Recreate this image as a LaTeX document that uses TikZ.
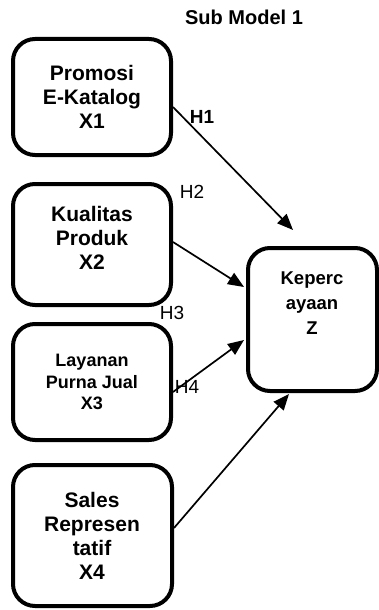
\documentclass[tikz,border=0pt]{standalone}
\usepackage{fontspec}
\setmainfont{Liberation Sans}
\usetikzlibrary{arrows.meta}
\begin{document}
\begin{tikzpicture}[x=1pt,y=-1pt,
  box/.style={draw, line width=4pt, rounded corners=22pt, inner sep=0pt},
  lbl/.style={align=center, font=\bfseries\fontsize{21}{24}\selectfont, inner sep=0pt},
  lblsm/.style={align=center, font=\bfseries\fontsize{18}{21.5}\selectfont, inner sep=0pt},
  hyp/.style={font=\fontsize{19}{22}\selectfont, inner sep=0pt},
  conn/.style={line width=1.7pt, -{Triangle[length=16pt,width=13pt]}}]
\useasboundingbox (0,0) rectangle (379,610);
\node[font=\bfseries\fontsize{20}{24}\selectfont, inner sep=0pt] (title) at (244,17) {Sub Model 1};
% boxes
\node[box, minimum width=158pt, minimum height=116pt] (x1) at (92,97) {};
\node[box, minimum width=158pt, minimum height=121pt] (x2) at (92,244.5) {};
\node[box, minimum width=158pt, minimum height=116pt] (x3) at (92,382) {};
\node[box, minimum width=159pt, minimum height=141pt] (x4) at (92.5,535.5) {};
\node[box, minimum width=129pt, minimum height=143pt] (z) at (312.5,319.5) {};
% texts
\node[lbl] (t1) at (92,97) {Promosi\\E-Katalog\\X1};
\node[lbl] (t2) at (92,238) {Kualitas\\Produk\\X2};
\node[lblsm] (t3) at (92,382) {Layanan\\Purna Jual\\X3};
\node[lbl] (t4) at (92,536) {Sales\\Represen\\tatif\\X4};
\node[lblsm, font=\bfseries\fontsize{18.5}{25}\selectfont] (tz) at (312,303) {Keperc\\ayaan\\Z};
% endpoints
\coordinate (s1) at (173,107);
\coordinate (e1) at (293,230);
\coordinate (s2) at (173,242);
\coordinate (e2) at (244,287);
\coordinate (s3) at (173,392);
\coordinate (e3) at (244,340);
\coordinate (s4) at (174,528);
\coordinate (e4) at (289,394);
\draw[conn] (s1) -- (e1);
\draw[conn] (s2) -- (e2);
\draw[conn] (s3) -- (e3);
\draw[conn] (s4) -- (e4);
% hypothesis labels
\node[hyp, font=\bfseries\fontsize{19}{22}\selectfont] (h1) at (202,117) {H1};
\node[hyp] (h2) at (192,192) {H2};
\node[hyp] (h3) at (172,313) {H3};
\node[hyp] (h4) at (187,387) {H4};
\end{tikzpicture}
\end{document}
